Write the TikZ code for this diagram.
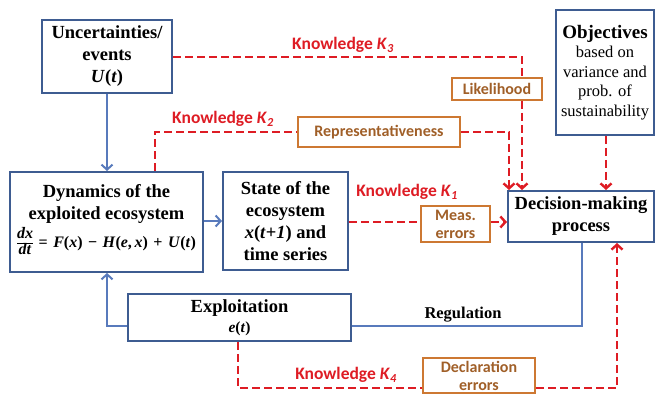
\documentclass[tikz,border=0pt]{standalone}
\usepackage{fontspec}
\setmainfont{Liberation Serif}
\newfontfamily\calib{Carlito}
\usetikzlibrary{arrows.meta}
\definecolor{boxblue}{RGB}{62,92,145}
\definecolor{lineblue}{RGB}{88,122,188}
\definecolor{kred}{RGB}{222,28,36}
\definecolor{oborder}{RGB}{205,120,50}
\definecolor{otext}{RGB}{160,95,40}
\newcommand\bvar[1]{\textbf{\textit{#1}}}
\newcommand\eqsp{\hspace{5.5pt}}
\newcommand\eqfrac[2]{$\vcenter{\hbox{\setlength{\arrayrulewidth}{1pt}\begin{tabular}{@{}c@{}}\rule[-2pt]{0pt}{9pt}#1\\[-1pt]\hline\rule{0pt}{11pt}#2\end{tabular}}}$}
\tikzset{
  mainbox/.style={draw=boxblue, line width=2pt, align=center, inner sep=0pt, font=\fontsize{18.5}{22}\selectfont\bfseries},
  objbox/.style={draw=boxblue, line width=2pt, align=center, inner sep=0pt, font=\fontsize{16.5}{19.5}\selectfont},
  obox/.style={draw=oborder, line width=2pt, align=center, inner sep=0pt, text=otext, font=\calib\fontsize{16}{18}\selectfont\bfseries},
  bluearrow/.style={draw=lineblue, line width=2pt, -{Straight Barb[length=5pt,width=11pt,line width=2pt]}},
  blueline/.style={draw=lineblue, line width=2pt},
  redline/.style={draw=kred, line width=2.6pt, dash pattern=on 8pt off 4pt},
  redarrow/.style={redline, -{Straight Barb[length=5pt,width=11pt,line width=2.4pt]}},
  klabel/.style={text=kred, font=\calib\fontsize{17.5}{20}\selectfont\bfseries, inner sep=0pt},
}
\begin{document}
\begin{tikzpicture}[x=1pt,y=-1pt]
\useasboundingbox (0,0) rectangle (656,395);
% boxes
\node[mainbox, minimum width=193pt, minimum height=100pt] (D) at (106.5,222)
  {Dynamics of the\\exploited ecosystem\\[3pt]\fontsize{16}{16}\selectfont\eqfrac{\bvar{dx}}{\bvar{dt}}\eqsp=\eqsp\bvar{F}(\bvar{x})\eqsp\textminus\eqsp\bvar{H}(\bvar{e},\,\bvar{x})\eqsp+\eqsp\bvar{U}(\bvar{t})};
\node[mainbox, minimum width=130pt, minimum height=73pt] (U) at (107,56.5)
  {Uncertainties/\\events\\\textit{U}(\textit{t})};
\node[mainbox, minimum width=125pt, minimum height=98pt] (S) at (285.5,221)
  {State of the\\ecosystem\\\textit{x}(\textit{t}+\textit{1}) and\\time series};
\node[mainbox, minimum width=223pt, minimum height=47pt] (E) at (239.5,317.5)
  {Exploitation\\[-2pt]\fontsize{15.5}{15.5}\selectfont\bvar{e}(\bvar{t})};
\node[mainbox, minimum width=146pt, minimum height=51pt] (P) at (581,216.5)
  {Decision-making\\process};
\node[objbox, minimum width=98pt, minimum height=125pt] (O) at (605,72.5)
  {\fontsize{19}{21}\selectfont\bfseries Objectives\\based on\\variance and\\prob. of\\sustainability};
\node[obox, minimum width=90pt, minimum height=22pt] (L) at (497,89) {Likelihood};
\node[obox, minimum width=162pt, minimum height=30pt] (R) at (379,132) {Representativeness};
\node[obox, minimum width=69pt, minimum height=36pt] (M) at (455.5,224) {Meas.\\errors};
\node[obox, minimum width=112pt, minimum height=35pt] (C) at (479,375.5) {Declaration\\errors};
% labels
\node[klabel] (k3) at (343,45) {Knowledge \textit{K}\textsubscript{\textit{3}}};
\node[klabel] (k2) at (223,119) {Knowledge \textit{K}\textsubscript{\textit{2}}};
\node[klabel] (k1) at (407,192) {Knowledge \textit{K}\textsubscript{\textit{1}}};
\node[klabel] (k4) at (346,375) {Knowledge \textit{K}\textsubscript{\textit{4}}};
\node[font=\fontsize{16.5}{18}\selectfont\bfseries, inner sep=0pt] (reg) at (463,315) {Regulation};
% coordinates
\coordinate (x3) at (522,0);
\coordinate (x2) at (509,0);
\coordinate (x2d) at (155,0);
\coordinate (xo) at (606,0);
\coordinate (xe) at (107,326);
\coordinate (xp) at (582,326);
\coordinate (xd) at (617,0);
\coordinate (xe4) at (238,388);
% blue connectors
\draw[bluearrow] (U.south) -- (U.south |- D.north);
\draw[bluearrow] (D.east |- S.west) -- (S.west);
\draw[bluearrow] (E.west |- xe) -- (xe) -- (xe |- D.south);
\draw[blueline] (xp |- P.south) -- (xp) -- (xp -| E.east);
% red connectors
\draw[redline] (U.east |- 0,57) -- (x3 |- 0,57) -- (x3 |- L.north);
\draw[redarrow] (x3 |- L.south) -- (x3 |- P.north);
\draw[redline] (x2d |- D.north) -- (x2d |- R.west) -- (R.west);
\draw[redarrow] (R.east) -- (x2 |- R.east) -- (x2 |- P.north);
\draw[redarrow] (xo |- O.south) -- (xo |- P.north);
\draw[redline] (S.east |- 0,222) -- (M.west |- 0,222);
\draw[redarrow] (M.east |- 0,222) -- (P.west |- 0,222);
\draw[redline] (xe4 |- E.south) -- (xe4) -- (xe4 -| C.west);
\draw[redarrow] (C.east |- xe4) -- (xd |- xe4) -- (xd |- P.south);
\end{tikzpicture}
\end{document}
